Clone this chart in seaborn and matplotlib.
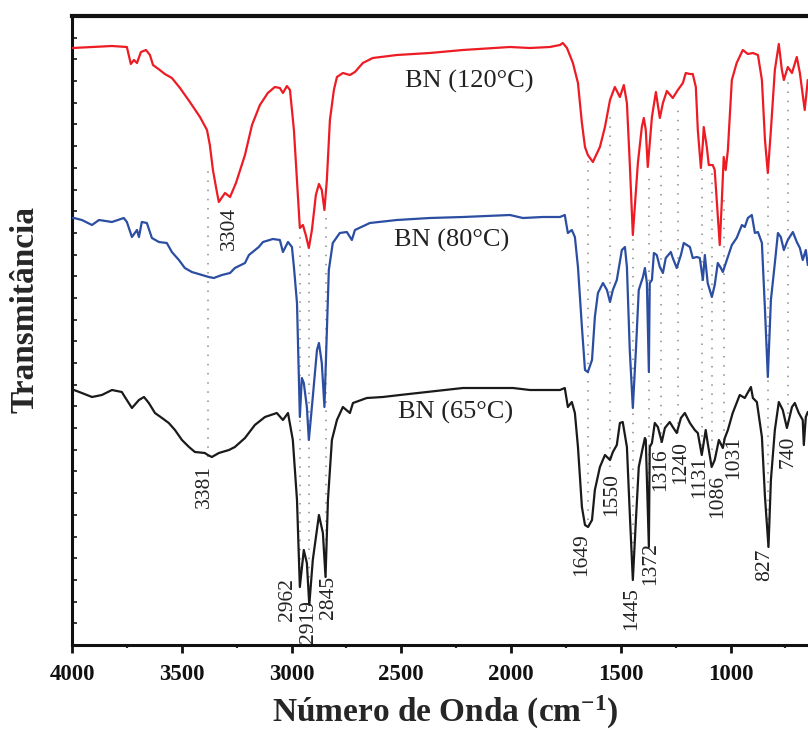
import numpy as np
import pandas as pd
import matplotlib
matplotlib.use("Agg")
import matplotlib.pyplot as plt
import seaborn as sns

# ---------------- data (wavenumber cm-1, transmittance a.u.) ----------------
red_wn = [4000, 3996, 3909, 3818, 3750, 3732, 3718, 3704, 3686, 3663, 3645, 3631, 3600, 3577, 3545,
          3508, 3463, 3417, 3385, 3372, 3358, 3340, 3331, 3303, 3280, 3253, 3212, 3180, 3144, 3108,
          3076, 3053, 3039, 3021, 3007, 2989, 2975, 2962, 2948, 2935, 2921, 2907, 2889, 2875, 2862,
          2850, 2839, 2825, 2807, 2793, 2766, 2734, 2711, 2675, 2630, 2520, 2370, 2219, 2005, 1914,
          1823, 1777, 1764, 1745, 1718, 1695, 1677, 1663, 1650, 1627, 1595, 1572, 1549, 1527, 1504,
          1486, 1472, 1459, 1445, 1422, 1404, 1395, 1386, 1377, 1358, 1340, 1322, 1308, 1290, 1263,
          1240, 1217, 1204, 1185, 1172, 1158, 1149, 1135, 1126, 1122, 1108, 1099, 1081, 1072, 1062,
          1049, 1040, 1031, 1022, 1012, 994, 972, 944, 921, 898, 875, 857, 843, 830, 816, 798, 780,
          766, 757, 739, 720, 698, 684, 662, 648, 640]
red_t = [597, 597, 598, 599, 598, 581, 585, 582, 593, 595, 590, 580, 575, 571, 567,
         557, 543, 528, 515, 500, 475, 453, 443, 452, 448, 462, 490, 520, 540, 552,
         558, 557, 552, 559, 555, 515, 465, 417, 420, 410, 397, 415, 450, 461, 455,
         435, 465, 525, 555, 568, 572, 570, 573, 582, 587, 590, 592, 595, 598, 597,
         598, 600, 602, 597, 582, 562, 522, 498, 490, 483, 498, 518, 545, 558, 548,
         560, 542, 482, 410, 482, 518, 527, 515, 478, 528, 553, 527, 542, 554, 547,
         555, 562, 572, 571, 571, 558, 515, 477, 502, 518, 498, 480, 480, 475, 442,
         400, 442, 488, 475, 495, 565, 582, 595, 591, 592, 590, 565, 505, 472, 515, 575, 601,
         575, 565, 578, 572, 588, 572, 535, 565, 565]

blue_wn = [4000, 3991, 3955, 3909, 3877, 3818, 3764, 3750, 3727, 3704, 3695, 3682, 3659, 3636, 3604,
           3568, 3545, 3513, 3486, 3454, 3408, 3377, 3354, 3317, 3280, 3258, 3212, 3194, 3149, 3130,
           3085, 3053, 3039, 3016, 2998, 2989, 2975, 2962, 2953, 2944, 2930, 2921, 2903, 2884, 2875,
           2862, 2850, 2839, 2830, 2812, 2780, 2748, 2725, 2711, 2643, 2520, 2370, 2219, 2005, 1946,
           1855, 1777, 1755, 1741, 1723, 1709, 1695, 1677, 1663, 1650, 1631, 1618, 1604, 1581, 1563,
           1549, 1536, 1518, 1495, 1481, 1472, 1459, 1445, 1431, 1418, 1399, 1390, 1381, 1372, 1368,
           1358, 1349, 1336, 1322, 1308, 1295, 1272, 1263, 1245, 1226, 1213, 1185, 1172, 1153, 1140,
           1126, 1117, 1104, 1085, 1072, 1058, 1044, 1035, 1017, 994, 972, 948, 935, 921, 903, 889,
           875, 857, 843, 830, 816, 798, 784, 771, 757, 739, 716, 698, 684, 671, 657, 648, 640]
blue_t = [427, 427, 425, 420, 425, 423, 427, 423, 408, 415, 408, 423, 422, 407, 403,
          402, 393, 385, 377, 373, 370, 368, 367, 370, 372, 377, 382, 390, 398, 403,
          406, 405, 393, 403, 398, 378, 342, 228, 267, 262, 238, 205, 248, 295, 302,
          282, 238, 315, 375, 402, 412, 413, 405, 415, 422, 425, 427, 428, 430, 427,
          428, 428, 430, 412, 415, 408, 378, 318, 275, 273, 285, 328, 352, 362, 355,
          343, 355, 365, 395, 398, 378, 295, 237, 295, 355, 368, 377, 362, 273, 362,
          365, 392, 390, 378, 372, 387, 393, 387, 377, 390, 402, 398, 387, 388, 387,
          365, 390, 362, 348, 360, 382, 377, 373, 385, 400, 407, 420, 418, 427, 430, 412,
          413, 402, 335, 268, 345, 382, 412, 408, 395, 405, 413, 403, 397, 385, 395, 380, 380]

black_wn = [4000, 3991, 3955, 3909, 3864, 3818, 3773, 3759, 3727, 3695, 3672, 3650, 3622, 3590, 3559,
            3531, 3499, 3467, 3440, 3395, 3381, 3363, 3331, 3285, 3258, 3212, 3167, 3121, 3067, 3039,
            3016, 2994, 2975, 2962, 2944, 2930, 2919, 2903, 2875, 2857, 2845, 2834, 2816, 2793, 2766,
            2734, 2720, 2657, 2584, 2506, 2219, 1991, 1914, 1836, 1777, 1755, 1741, 1723, 1709, 1695,
            1677, 1663, 1649, 1631, 1618, 1595, 1572, 1549, 1536, 1518, 1504, 1491, 1472, 1459, 1445,
            1431, 1418, 1399, 1390, 1386, 1372, 1368, 1358, 1345, 1331, 1313, 1299, 1277, 1263, 1245,
            1226, 1208, 1185, 1163, 1149, 1131, 1113, 1104, 1086, 1072, 1053, 1035, 1026, 1012, 990,
            958, 935, 907, 898, 880, 857, 843, 827, 816, 798, 780, 762, 743, 720, 707, 689, 671, 666,
            657, 648, 640]
black_t = [255, 255, 252, 248, 250, 255, 253, 248, 237, 245, 248, 242, 232, 227, 222,
           215, 205, 198, 193, 192, 190, 188, 192, 195, 198, 207, 220, 228, 232, 225,
           232, 205, 145, 58, 95, 82, 40, 85, 130, 112, 68, 145, 205, 225, 238,
           232, 242, 247, 248, 250, 257, 257, 255, 255, 255, 257, 238, 243, 232, 198,
           138, 120, 118, 125, 155, 178, 190, 185, 193, 200, 222, 223, 198, 132, 65,
           125, 178, 198, 207, 205, 98, 198, 202, 222, 218, 203, 217, 223, 218, 212,
           227, 232, 222, 215, 212, 190, 215, 202, 178, 185, 205, 197, 207, 215, 232,
           250, 247, 258, 247, 243, 208, 148, 98, 165, 215, 243, 235, 217, 238, 242, 232, 225, 200,
           228, 233, 233]

# band annotations
peak_labels = ["3304", "3381", "2962", "2919", "2845", "1649", "1550", "1445", "1372",
               "1316", "1240", "1131", "1086", "1031", "827", "740"]
peak_label_x = [3285, 3395, 3016, 2921, 2830, 1678, 1541, 1450, 1363,
                1316, 1228, 1140, 1058, 985, 844, 739]
peak_label_y = [417, 159, 45, 23, 48, 90, 150, 36, 81,
                175, 183, 168, 149, 187, 80, 193]

guide_x = [3381, 2962, 2919, 2845, 1649, 1550, 1445, 1372, 1316, 1240, 1131, 1086, 1031, 827, 740]
guide_top = [478, 415, 395, 433, 485, 533, 410, 472, 515, 538, 475, 475, 452, 472, 563]
guide_bottom = [188, 58, 40, 68, 125, 178, 65, 98, 202, 212, 190, 195, 205, 98, 222]

series_names = ["BN (120°C)", "BN (80°C)", "BN (65°C)"]
series_label_x = [2192, 2270, 2251]
series_label_y = [564, 405, 233]

# ---------------- styling ----------------
sns.set_theme(style="ticks")
plt.rcParams["font.family"] = ["Liberation Serif", "DejaVu Serif"]
plt.rcParams["mathtext.fontset"] = "custom"
plt.rcParams["mathtext.rm"] = "Liberation Serif"
plt.rcParams["mathtext.bf"] = "Liberation Serif:bold"
plt.rcParams["mathtext.default"] = "bf"

colors = ["#ed1c24", "#2b4ea2", "#1a1a1a"]

df = pd.concat([
    pd.DataFrame({"wn": red_wn, "T": red_t, "s": series_names[0]}),
    pd.DataFrame({"wn": blue_wn, "T": blue_t, "s": series_names[1]}),
    pd.DataFrame({"wn": black_wn, "T": black_t, "s": series_names[2]}),
])

fig = plt.figure(figsize=(8.08, 7.31), dpi=100)
ax = fig.add_axes([72 / 808, 86 / 731, 736 / 808, 629 / 731])

ax.vlines(guide_x, guide_bottom, guide_top, colors="#8a8a8a",
          linestyles=(0, (1, 5)), linewidth=1.1, zorder=1)

for name, col in zip(series_names, colors):
    sub = df[df["s"] == name]
    sns.lineplot(data=sub, x="wn", y="T", color=col, linewidth=1.6, ax=ax,
                 sort=False, estimator=None, legend=False, zorder=3)

for txt, x, y in zip(series_names, series_label_x, series_label_y):
    ax.text(x, y, txt, fontsize=19, ha="center", va="center", color="#222222")

for txt, x, y in zip(peak_labels, peak_label_x, peak_label_y):
    ax.text(x, y, txt, fontsize=15.5, rotation=90, ha="center", va="center",
            color="#222222", zorder=4)

ax.set_xlim(4000, 647)
ax.set_ylim(0, 629)
ax.set_xticks([4000, 3500, 3000, 2500, 2000, 1500, 1000])
ax.set_xticks(np.arange(3750, 600, -500), minor=True)
ax.set_yticks(np.arange(0, 629, 21.69))
ax.set_yticklabels([])
ax.tick_params(axis="x", which="major", direction="out", length=6, width=2.0,
               labelsize=16.5, pad=8, colors="#111111")
ax.tick_params(axis="x", which="minor", direction="out", length=2.5, width=1.6)
ax.tick_params(axis="y", which="major", direction="in", length=3.5, width=1.3, left=True)
for lab in ax.get_xticklabels():
    lab.set_fontweight("bold")

ax.spines["right"].set_visible(False)
ax.spines["top"].set_linewidth(3.0)
ax.spines["left"].set_linewidth(2.2)
ax.spines["bottom"].set_linewidth(2.2)
for sp in ax.spines.values():
    sp.set_color("#111111")

ax.set_xlabel("Número de Onda (cm$^{-1}$)", fontsize=24, fontweight="bold", va="center")
ax.set_ylabel("Transmitância", fontsize=24, fontweight="bold", va="center")
ax.xaxis.set_label_coords(0.507, -0.107)
ax.yaxis.set_label_coords(-0.064, 0.533)

fig.savefig("out.png", dpi=100)
